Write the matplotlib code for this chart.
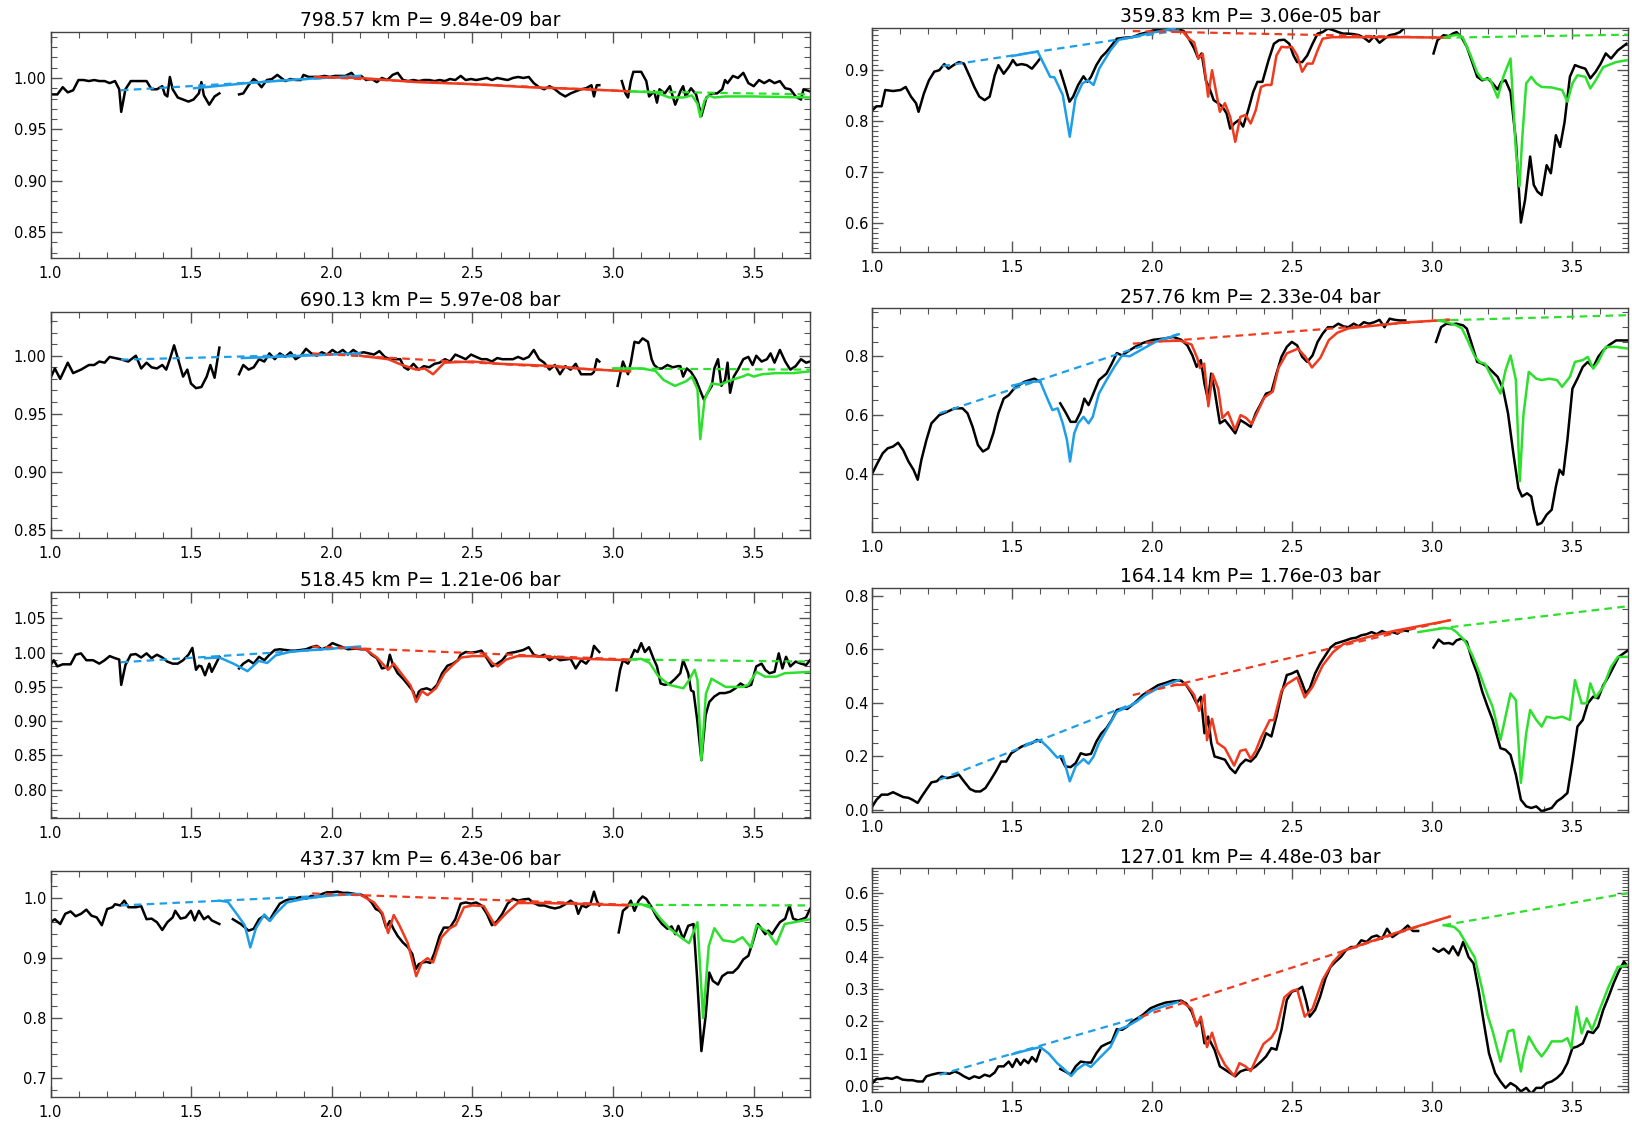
import numpy as np
import matplotlib
matplotlib.use("Agg")
import matplotlib.pyplot as plt
from matplotlib.ticker import MultipleLocator, FormatStrFormatter

# ── Colours ───────────────────────────────────────────────────────────────────
OBS_COLOR   = "black"
BLUE        = "#1E9EE8"
RED         = "#F03A1E"
GREEN       = "#2EE02E"

# ── 798.57 km ─────────────────────────────────────────────────────────────────
L1_obs_a = [(1.000,0.984),(1.024,0.984),(1.043,0.991),(1.061,0.986),(1.080,0.988),(1.099,0.998),(1.117,0.998),
            (1.136,0.997),(1.155,0.998),(1.173,0.997),(1.192,0.997),(1.210,0.995),(1.229,0.997),(1.244,0.989),
            (1.251,0.967),(1.266,0.989),(1.285,0.997),(1.303,0.997),(1.322,0.997),(1.341,0.997),(1.359,0.989),
            (1.378,0.989),(1.397,0.992),(1.406,0.984),(1.415,0.982),(1.424,1.001),(1.434,0.989),(1.452,0.981),
            (1.471,0.979),(1.490,0.977),(1.508,0.979),(1.527,0.985),(1.536,0.996),(1.545,0.983),(1.564,0.974),
            (1.583,0.982),(1.600,0.985)]
L1_obs_b = [(1.670,0.984),(1.685,0.985),(1.704,0.993),(1.722,0.999),(1.732,0.997),(1.750,0.991),(1.769,0.998),
            (1.787,0.999),(1.806,1.003),(1.825,0.999),(1.834,0.997),(1.853,0.999),(1.871,0.998),(1.890,0.998),
            (1.899,1.003),(1.918,1.001),(1.936,1.001),(1.955,1.001),(1.974,1.002),(1.992,1.001),(2.011,1.002),
            (2.029,1.002),(2.048,1.002),(2.070,1.005),(2.085,1.000),(2.104,1.002),(2.122,0.998),(2.141,0.999),
            (2.160,0.996),(2.178,1.000),(2.197,0.998),(2.216,1.003),(2.234,1.005),(2.253,0.998),(2.271,0.997),
            (2.290,0.998),(2.309,0.997),(2.327,0.998),(2.346,0.998),(2.365,0.997),(2.383,0.998),(2.402,0.997),
            (2.420,0.999),(2.439,0.998),(2.458,1.002),(2.476,0.998),(2.495,0.999),(2.513,0.998),(2.532,0.999),
            (2.551,1.000),(2.569,0.998),(2.588,1.000),(2.606,0.999),(2.625,0.998),(2.644,1.000),(2.662,1.001),
            (2.681,1.000),(2.700,1.001),(2.718,0.995),(2.737,0.991),(2.755,0.989),(2.774,0.992),(2.793,0.989),
            (2.811,0.985),(2.830,0.982),(2.849,0.985),(2.867,0.987),(2.886,0.989),(2.904,0.990),(2.923,0.993),
            (2.932,0.982),(2.942,0.993),(2.951,0.993)]
L1_obs_c = [(3.031,0.997),(3.044,0.985),(3.053,0.981),(3.063,0.997),(3.072,1.006),(3.100,1.006),(3.118,0.997),
            (3.128,0.982),(3.146,0.987),(3.156,0.976),(3.165,0.989),(3.184,0.985),(3.202,0.992),(3.212,0.982),
            (3.221,0.974),(3.239,0.987),(3.249,0.992),(3.258,0.982),(3.277,0.990),(3.295,0.984),(3.314,0.963),
            (3.332,0.981),(3.351,0.985),(3.370,0.985),(3.388,0.989),(3.398,0.998),(3.407,0.995),(3.426,1.002),
            (3.444,1.000),(3.463,1.005),(3.481,0.995),(3.500,0.992),(3.519,0.998),(3.537,0.995),(3.556,0.998),
            (3.574,0.995),(3.593,0.997),(3.612,0.990),(3.630,0.989),(3.649,0.982),(3.668,0.979),(3.677,0.989),
            (3.700,0.987)]
L1_blue  = [(1.51,0.990),(1.70,0.995),(1.90,0.999),(2.10,1.002)]
L1_red   = [(1.94,1.001),(2.10,1.000),(2.30,0.996),(2.50,0.994),(2.70,0.991),(2.90,0.989),(3.06,0.987)]
L1_green = [(3.06,0.987),(3.15,0.986),(3.20,0.981),(3.25,0.981),(3.28,0.983),(3.30,0.975),(3.31,0.962),
            (3.325,0.978),(3.34,0.983),(3.36,0.981),(3.40,0.982),(3.50,0.982),(3.70,0.981)]
L1_cont  = {"blue": [(1.25,0.988),(2.10,1.002)], "red": [(1.94,1.001),(3.06,0.987)],
            "green": [(3.06,0.987),(3.70,0.984)]}

# ── 690.13 km ─────────────────────────────────────────────────────────────────
L2_obs_a = [(1.000,0.981),(1.015,0.989),(1.034,0.980),(1.061,0.994),(1.080,0.985),(1.108,0.988),(1.136,0.992),
            (1.155,0.992),(1.173,0.995),(1.192,0.994),(1.210,0.999),(1.229,0.998),(1.248,0.997),(1.276,0.995),
            (1.303,1.000),(1.322,0.989),(1.341,0.994),(1.359,0.990),(1.378,0.989),(1.397,0.992),(1.411,0.988),
            (1.424,0.997),(1.439,1.009),(1.452,0.998),(1.471,0.982),(1.486,0.988),(1.499,0.976),(1.517,0.972),
            (1.536,0.973),(1.555,0.982),(1.568,0.992),(1.583,0.981),(1.600,1.007)]
L2_obs_b = [(1.670,0.984),(1.685,0.992),(1.704,0.988),(1.722,0.990),(1.741,0.997),(1.760,0.995),(1.778,1.002),
            (1.797,0.997),(1.815,1.002),(1.834,0.999),(1.853,1.003),(1.871,0.997),(1.890,1.000),(1.908,1.006),
            (1.927,1.002),(1.946,1.000),(1.964,1.003),(1.983,1.001),(2.002,1.005),(2.020,1.002),(2.039,1.005),
            (2.057,1.001),(2.076,1.005),(2.094,1.002),(2.113,1.003),(2.132,1.002),(2.150,1.001),(2.169,1.004),
            (2.188,0.999),(2.206,0.997),(2.225,0.997),(2.243,0.997),(2.257,0.990),(2.271,0.988),(2.290,0.993),
            (2.309,0.988),(2.327,0.991),(2.346,0.990),(2.365,0.993),(2.383,0.994),(2.402,0.997),(2.420,0.995),
            (2.439,1.001),(2.458,0.999),(2.476,0.997),(2.495,1.001),(2.513,0.999),(2.532,0.997),(2.551,0.997),
            (2.569,0.995),(2.588,0.998),(2.606,0.997),(2.625,0.997),(2.644,0.997),(2.662,0.999),(2.681,0.997),
            (2.700,0.999),(2.718,1.005),(2.737,0.997),(2.755,0.994),(2.774,0.988),(2.793,0.992),(2.811,0.984),
            (2.830,0.991),(2.849,0.988),(2.867,0.993),(2.886,0.984),(2.904,0.984),(2.923,0.984),(2.932,0.986),
            (2.942,0.997),(2.951,0.995)]
L2_obs_c = [(3.016,0.974),(3.035,0.995),(3.053,0.984),(3.063,0.994),(3.076,1.012),(3.091,1.011),(3.105,1.015),
            (3.124,1.012),(3.137,0.997),(3.146,0.992),(3.161,0.989),(3.174,0.989),(3.193,0.992),(3.212,0.990),
            (3.230,0.991),(3.239,0.991),(3.249,0.982),(3.262,0.989),(3.277,0.986),(3.295,0.979),(3.308,0.971),
            (3.323,0.962),(3.336,0.968),(3.351,0.974),(3.360,0.989),(3.373,0.997),(3.385,0.974),(3.398,0.979),
            (3.407,0.994),(3.416,0.968),(3.429,0.982),(3.444,0.988),(3.463,0.997),(3.481,0.999),(3.496,0.992),
            (3.509,1.000),(3.528,0.995),(3.547,0.997),(3.560,1.002),(3.574,0.994),(3.593,1.005),(3.612,0.995),
            (3.630,0.988),(3.649,0.991),(3.668,0.997),(3.686,0.994),(3.700,0.995)]
L2_blue  = [(1.68,0.998),(1.80,0.999),(2.00,1.001),(2.10,1.002)]
L2_red   = [(2.10,1.000),(2.20,0.997),(2.25,0.992),(2.30,0.988),(2.33,0.989),(2.36,0.984),(2.40,0.994),
            (2.50,0.995),(2.60,0.993),(2.70,0.992),(2.80,0.991),(2.90,0.9885),(3.06,0.9865)]
L2_green = [(3.00,0.989),(3.10,0.989),(3.15,0.987),(3.18,0.979),(3.22,0.974),(3.26,0.978),(3.28,0.982),
            (3.30,0.971),(3.31,0.928),(3.325,0.962),(3.35,0.976),(3.38,0.975),(3.42,0.979),(3.46,0.982),
            (3.48,0.984),(3.50,0.982),(3.53,0.984),(3.58,0.985),(3.64,0.985),(3.70,0.9865)]
L2_cont  = {"blue": [(1.25,0.9966),(2.10,1.002)], "red": [(1.93,1.002),(3.06,0.9865)],
            "green": [(3.00,0.989),(3.70,0.988)]}

# ── 518.45 km ─────────────────────────────────────────────────────────────────
L3_obs_a = [(1.000,0.982),(1.011,0.989),(1.024,0.980),(1.043,0.983),(1.071,0.983),(1.089,0.997),(1.108,0.999),
            (1.127,0.989),(1.151,0.989),(1.173,0.984),(1.192,0.989),(1.210,0.995),(1.229,0.992),(1.244,0.990),
            (1.251,0.953),(1.266,0.982),(1.285,0.997),(1.303,0.998),(1.322,0.993),(1.341,0.999),(1.359,0.992),
            (1.378,0.997),(1.397,0.993),(1.415,0.987),(1.434,0.984),(1.452,0.984),(1.471,0.989),(1.490,0.997),
            (1.504,1.007),(1.517,0.975),(1.527,0.981),(1.536,0.980),(1.549,0.967),(1.564,0.984),(1.573,0.972),
            (1.583,0.980),(1.600,0.994)]
L3_obs_b = [(1.670,0.977),(1.685,0.984),(1.704,0.989),(1.722,0.984),(1.741,0.994),(1.760,0.989),(1.778,0.997),
            (1.797,1.004),(1.815,1.005),(1.834,1.004),(1.853,1.003),(1.871,1.003),(1.890,1.004),(1.908,1.005),
            (1.927,1.008),(1.946,1.010),(1.964,1.005),(1.983,1.008),(2.002,1.014),(2.020,1.011),(2.039,1.008),
            (2.057,1.005),(2.085,1.006),(2.104,1.005),(2.122,1.005),(2.141,0.997),(2.160,0.992),(2.178,0.977),
            (2.197,0.979),(2.206,0.997),(2.216,0.984),(2.234,0.970),(2.253,0.962),(2.271,0.953),(2.290,0.943),
            (2.299,0.931),(2.309,0.943),(2.318,0.946),(2.337,0.948),(2.355,0.945),(2.374,0.953),(2.392,0.970),
            (2.411,0.981),(2.430,0.984),(2.448,0.989),(2.458,0.997),(2.476,1.001),(2.495,1.000),(2.513,1.001),
            (2.532,1.003),(2.551,0.992),(2.569,0.980),(2.588,0.984),(2.606,0.989),(2.625,0.999),(2.653,1.001),
            (2.681,1.004),(2.700,1.008),(2.718,0.997),(2.737,0.994),(2.755,0.997),(2.774,0.989),(2.793,0.994),
            (2.811,0.989),(2.830,0.990),(2.849,0.991),(2.867,0.977),(2.886,0.989),(2.904,0.984),(2.923,0.994),
            (2.932,1.010),(2.942,1.005),(2.951,1.001)]
L3_obs_c = [(3.012,0.945),(3.025,0.975),(3.035,0.989),(3.053,0.984),(3.063,0.992),(3.076,1.004),(3.087,1.001),
            (3.100,1.014),(3.113,1.001),(3.128,1.008),(3.143,0.992),(3.156,0.980),(3.169,0.955),(3.184,0.953),
            (3.202,0.955),(3.221,0.962),(3.239,0.970),(3.249,0.989),(3.267,0.970),(3.277,0.945),(3.286,0.943),
            (3.299,0.902),(3.314,0.843),(3.329,0.909),(3.342,0.928),(3.360,0.936),(3.379,0.941),(3.398,0.941),
            (3.416,0.943),(3.435,0.948),(3.453,0.955),(3.472,0.950),(3.491,0.953),(3.509,0.980),(3.528,0.984),
            (3.541,0.975),(3.556,0.970),(3.574,0.972),(3.589,0.999),(3.602,0.977),(3.615,0.994),(3.630,0.980),
            (3.649,0.987),(3.668,0.984),(3.686,0.982),(3.700,0.989)]
L3_blue  = [(1.55,0.992),(1.60,0.993),(1.65,0.984),(1.70,0.973),(1.74,0.988),(1.77,0.985),(1.80,0.996),
            (1.85,1.001),(1.90,1.003),(2.00,1.006),(2.10,1.009)]
L3_red   = [(2.08,1.007),(2.12,1.005),(2.16,0.993),(2.20,0.975),(2.22,0.984),(2.25,0.968),(2.28,0.952),
            (2.30,0.928),(2.32,0.944),(2.34,0.938),(2.37,0.948),(2.40,0.970),(2.43,0.982),(2.46,0.993),
            (2.50,0.995),(2.55,0.995),(2.57,0.985),(2.59,0.980),(2.62,0.990),(2.66,0.995),(2.70,0.995),
            (2.80,0.993),(2.90,0.991),(3.06,0.989)]
L3_green = [(3.06,0.990),(3.10,0.991),(3.13,0.985),(3.16,0.966),(3.20,0.953),(3.25,0.948),(3.27,0.960),
            (3.29,0.975),(3.30,0.960),(3.314,0.843),(3.33,0.940),(3.35,0.962),(3.40,0.950),(3.46,0.950),
            (3.48,0.953),(3.51,0.972),(3.54,0.965),(3.58,0.965),(3.61,0.970),(3.70,0.972)]
L3_cont  = {"blue": [(1.25,0.986),(2.10,1.008)], "red": [(1.93,1.009),(3.06,0.990)],
            "green": [(3.06,0.990),(3.70,0.987)]}

# ── 437.37 km ─────────────────────────────────────────────────────────────────
L4_obs_a = [(1.000,0.960),(1.015,0.965),(1.034,0.957),(1.052,0.974),(1.071,0.978),(1.089,0.970),(1.108,0.974),
            (1.127,0.981),(1.145,0.971),(1.164,0.968),(1.182,0.955),(1.201,0.982),(1.220,0.985),(1.229,0.990),
            (1.248,0.988),(1.262,0.996),(1.277,0.985),(1.303,0.985),(1.322,0.987),(1.341,0.965),(1.359,0.966),
            (1.378,0.960),(1.397,0.947),(1.415,0.960),(1.434,0.968),(1.443,0.979),(1.462,0.966),(1.480,0.968),
            (1.499,0.979),(1.512,0.963),(1.527,0.979),(1.545,0.965),(1.560,0.970),(1.573,0.963),(1.600,0.957)]
L4_obs_b = [(1.648,0.965),(1.676,0.957),(1.704,0.946),(1.722,0.949),(1.741,0.965),(1.760,0.971),(1.778,0.963),
            (1.797,0.978),(1.815,0.991),(1.834,0.996),(1.853,0.999),(1.871,1.000),(1.890,1.002),(1.908,0.999),
            (1.927,1.004),(1.946,1.002),(1.964,1.007),(1.983,1.010),(2.002,1.010),(2.020,1.011),(2.039,1.009),
            (2.057,1.009),(2.085,1.007),(2.104,1.006),(2.122,1.002),(2.141,0.993),(2.156,0.982),(2.169,0.979),
            (2.178,0.974),(2.193,0.951),(2.206,0.962),(2.219,0.949),(2.234,0.937),(2.253,0.926),(2.271,0.918),
            (2.286,0.907),(2.299,0.882),(2.309,0.890),(2.324,0.893),(2.337,0.894),(2.350,0.892),(2.365,0.909),
            (2.383,0.937),(2.398,0.951),(2.420,0.951),(2.439,0.965),(2.458,0.991),(2.476,0.993),(2.495,0.991),
            (2.513,0.993),(2.532,0.988),(2.551,0.974),(2.569,0.955),(2.588,0.962),(2.606,0.974),(2.625,0.991),
            (2.644,0.999),(2.662,0.996),(2.681,0.998),(2.700,0.999),(2.718,0.992),(2.737,0.988),(2.755,0.988),
            (2.774,0.985),(2.793,0.983),(2.811,0.985),(2.830,0.990),(2.849,0.996),(2.867,0.989),(2.876,0.974),
            (2.889,0.988),(2.904,0.985),(2.919,0.990),(2.932,1.011),(2.942,0.996),(2.951,0.988)]
L4_obs_c = [(3.020,0.943),(3.035,0.979),(3.050,0.985),(3.063,0.996),(3.076,0.979),(3.091,0.996),(3.105,1.003),
            (3.118,0.999),(3.137,0.985),(3.156,0.968),(3.174,0.957),(3.193,0.949),(3.208,0.953),(3.221,0.940),
            (3.232,0.954),(3.249,0.932),(3.267,0.954),(3.286,0.957),(3.299,0.865),(3.314,0.745),(3.329,0.803),
            (3.342,0.876),(3.355,0.862),(3.373,0.856),(3.388,0.870),(3.407,0.876),(3.426,0.876),(3.444,0.884),
            (3.463,0.898),(3.481,0.904),(3.500,0.932),(3.515,0.957),(3.528,0.949),(3.541,0.940),(3.552,0.946),
            (3.565,0.940),(3.580,0.951),(3.593,0.960),(3.612,0.966),(3.627,0.988),(3.640,0.966),(3.658,0.963),
            (3.677,0.966),(3.686,0.968),(3.700,0.982)]
L4_blue  = [(1.60,0.996),(1.63,0.994),(1.66,0.975),(1.69,0.955),(1.71,0.918),(1.73,0.950),(1.76,0.973),
            (1.78,0.962),(1.80,0.974),(1.84,0.993),(1.90,0.999),(2.00,1.005),(2.10,1.007)]
L4_red   = [(2.10,1.006),(2.15,0.993),(2.18,0.975),(2.20,0.942),(2.22,0.972),(2.24,0.955),(2.27,0.925),
            (2.30,0.870),(2.32,0.893),(2.34,0.900),(2.36,0.893),(2.39,0.935),(2.42,0.950),(2.44,0.955),
            (2.47,0.985),(2.50,0.988),(2.54,0.987),(2.58,0.955),(2.62,0.975),(2.66,0.992),(2.75,0.992),
            (2.85,0.991),(3.06,0.988)]
L4_green = [(3.06,0.989),(3.10,0.990),(3.14,0.983),(3.17,0.965),(3.20,0.950),(3.24,0.935),(3.27,0.925),
            (3.30,0.960),(3.32,0.800),(3.34,0.920),(3.36,0.950),(3.39,0.930),(3.43,0.927),(3.46,0.935),
            (3.49,0.918),(3.51,0.955),(3.55,0.943),(3.58,0.923),(3.61,0.957),(3.70,0.965)]
L4_cont  = {"blue": [(1.25,0.988),(2.10,1.007)], "red": [(1.93,1.008),(3.06,0.989)],
            "green": [(3.06,0.989),(3.70,0.988)]}

# ── 359.83 km ─────────────────────────────────────────────────────────────────
R1_obs_a = [(1.000,0.821),(1.015,0.829),(1.033,0.829),(1.046,0.861),(1.074,0.859),(1.101,0.861),(1.119,0.867),
            (1.138,0.848),(1.156,0.835),(1.165,0.818),(1.184,0.854),(1.202,0.880),(1.221,0.897),(1.239,0.900),
            (1.257,0.912),(1.272,0.903),(1.290,0.910),(1.309,0.916),(1.327,0.913),(1.346,0.890),(1.364,0.867),
            (1.382,0.848),(1.401,0.841),(1.419,0.848),(1.437,0.890),(1.450,0.910),(1.469,0.893),(1.487,0.906),
            (1.502,0.920),(1.515,0.910),(1.533,0.912),(1.551,0.910),(1.570,0.903),(1.585,0.913),(1.599,0.923)]
R1_obs_b = [(1.671,0.899),(1.689,0.867),(1.704,0.838),(1.717,0.848),(1.735,0.871),(1.754,0.888),(1.768,0.877),
            (1.781,0.887),(1.800,0.910),(1.818,0.926),(1.836,0.936),(1.855,0.949),(1.873,0.962),(1.901,0.964),
            (1.928,0.965),(1.956,0.971),(1.984,0.975),(2.011,0.979),(2.039,0.980),(2.066,0.979),(2.088,0.982),
            (2.112,0.977),(2.130,0.962),(2.149,0.943),(2.164,0.923),(2.176,0.933),(2.191,0.880),(2.204,0.864),
            (2.219,0.841),(2.235,0.835),(2.250,0.828),(2.265,0.815),(2.278,0.785),(2.292,0.795),(2.309,0.802),
            (2.324,0.789),(2.342,0.821),(2.360,0.857),(2.375,0.877),(2.393,0.877),(2.415,0.920),(2.434,0.952),
            (2.452,0.959),(2.471,0.960),(2.489,0.952),(2.504,0.929),(2.517,0.916),(2.535,0.916),(2.553,0.929),
            (2.572,0.952),(2.590,0.972),(2.608,0.975),(2.627,0.982),(2.645,0.979),(2.664,0.975),(2.682,0.972),
            (2.700,0.972),(2.719,0.971),(2.737,0.969),(2.755,0.964),(2.774,0.956),(2.792,0.967),(2.811,0.954),
            (2.829,0.962),(2.847,0.969),(2.866,0.971),(2.884,0.975),(2.903,0.985),(2.930,0.990)]
R1_obs_c = [(3.004,0.933),(3.018,0.959),(3.040,0.969),(3.059,0.967),(3.073,0.972),(3.086,0.975),(3.105,0.964),
            (3.123,0.946),(3.142,0.916),(3.160,0.887),(3.178,0.880),(3.197,0.884),(3.215,0.874),(3.233,0.862),
            (3.246,0.877),(3.261,0.880),(3.279,0.857),(3.298,0.762),(3.316,0.600),(3.331,0.645),(3.349,0.730),
            (3.362,0.674),(3.375,0.661),(3.390,0.654),(3.408,0.713),(3.423,0.697),(3.441,0.772),(3.456,0.749),
            (3.472,0.798),(3.491,0.887),(3.509,0.910),(3.528,0.906),(3.546,0.903),(3.564,0.884),(3.583,0.897),
            (3.601,0.913),(3.619,0.933),(3.638,0.923),(3.662,0.939),(3.693,0.952)]
R1_blue  = [(1.50,0.928),(1.59,0.937),(1.635,0.887),(1.65,0.886),(1.68,0.851),(1.705,0.769),(1.725,0.844),
            (1.75,0.874),(1.77,0.880),(1.79,0.871),(1.81,0.903),(1.85,0.939),(1.88,0.960),(1.92,0.964),
            (2.00,0.974),(2.08,0.982)]
R1_red   = [(2.07,0.977),(2.11,0.975),(2.13,0.962),(2.149,0.955),(2.164,0.923),(2.180,0.932),(2.199,0.848),
            (2.213,0.900),(2.241,0.818),(2.259,0.835),(2.278,0.808),(2.296,0.759),(2.314,0.808),(2.333,0.812),
            (2.351,0.795),(2.369,0.821),(2.388,0.867),(2.406,0.871),(2.425,0.871),(2.443,0.929),(2.461,0.946),
            (2.480,0.945),(2.498,0.946),(2.517,0.929),(2.535,0.897),(2.553,0.913),(2.572,0.913),(2.590,0.939),
            (2.608,0.962),(2.640,0.965),(2.750,0.965),(2.900,0.965),(3.060,0.964)]
R1_green = [(3.040,0.964),(3.059,0.967),(3.090,0.970),(3.108,0.965),(3.136,0.930),(3.160,0.895),(3.178,0.882),
            (3.206,0.882),(3.233,0.846),(3.255,0.890),(3.279,0.923),(3.298,0.743),(3.311,0.671),(3.320,0.760),
            (3.335,0.874),(3.353,0.887),(3.371,0.874),(3.390,0.867),(3.426,0.866),(3.463,0.861),(3.482,0.838),
            (3.500,0.874),(3.518,0.890),(3.546,0.887),(3.564,0.864),(3.583,0.880),(3.610,0.906),(3.656,0.916),
            (3.700,0.920)]
R1_cont  = {"blue": [(1.25,0.908),(2.10,0.979)], "red": [(1.93,0.977),(3.06,0.964)],
            "green": [(3.04,0.964),(3.70,0.970)]}

# ── 257.76 km ─────────────────────────────────────────────────────────────────
R2_obs_a = [(1.000,0.402),(1.018,0.436),(1.037,0.470),(1.055,0.487),(1.074,0.493),(1.092,0.506),(1.110,0.481),
            (1.129,0.442),(1.147,0.414),(1.162,0.380),(1.175,0.447),(1.193,0.515),(1.211,0.572),(1.239,0.600),
            (1.267,0.611),(1.294,0.623),(1.322,0.623),(1.340,0.606),(1.358,0.560),(1.377,0.498),(1.395,0.476),
            (1.414,0.487),(1.432,0.538),(1.450,0.606),(1.469,0.656),(1.487,0.668),(1.506,0.690),(1.524,0.702),
            (1.542,0.713),(1.561,0.719),(1.579,0.724),(1.599,0.713)]
R2_obs_b = [(1.671,0.640),(1.689,0.611),(1.708,0.577),(1.726,0.577),(1.744,0.611),(1.757,0.656),(1.772,0.634),
            (1.787,0.668),(1.809,0.719),(1.836,0.741),(1.855,0.775),(1.873,0.811),(1.892,0.803),(1.910,0.815),
            (1.938,0.832),(1.965,0.845),(2.002,0.856),(2.039,0.860),(2.075,0.866),(2.103,0.856),(2.125,0.837),
            (2.143,0.803),(2.158,0.764),(2.173,0.787),(2.186,0.707),(2.199,0.651),(2.210,0.741),(2.222,0.685),
            (2.241,0.572),(2.259,0.583),(2.278,0.560),(2.296,0.538),(2.314,0.583),(2.333,0.572),(2.351,0.560),
            (2.369,0.606),(2.388,0.640),(2.406,0.673),(2.425,0.679),(2.443,0.741),(2.461,0.798),(2.480,0.832),
            (2.498,0.849),(2.517,0.837),(2.535,0.798),(2.553,0.781),(2.572,0.803),(2.590,0.849),(2.608,0.877),
            (2.627,0.899),(2.645,0.899),(2.664,0.911),(2.682,0.902),(2.700,0.899),(2.719,0.911),(2.737,0.902),
            (2.755,0.916),(2.774,0.911),(2.792,0.916),(2.811,0.924),(2.829,0.899),(2.847,0.928),(2.866,0.924),
            (2.884,0.922),(2.903,0.922)]
R2_obs_c = [(3.013,0.849),(3.031,0.899),(3.050,0.911),(3.068,0.909),(3.086,0.911),(3.110,0.905),(3.123,0.894),
            (3.142,0.837),(3.160,0.781),(3.178,0.775),(3.197,0.764),(3.215,0.747),(3.233,0.730),(3.252,0.690),
            (3.270,0.606),(3.289,0.470),(3.307,0.351),(3.320,0.323),(3.338,0.334),(3.353,0.323),(3.362,0.278),
            (3.375,0.227),(3.390,0.233),(3.408,0.261),(3.426,0.278),(3.441,0.357),(3.454,0.414),(3.467,0.397),
            (3.482,0.515),(3.500,0.690),(3.518,0.724),(3.537,0.764),(3.555,0.781),(3.574,0.762),(3.592,0.798),
            (3.610,0.820),(3.629,0.837),(3.656,0.854),(3.700,0.854)]
R2_blue  = [(1.500,0.700),(1.551,0.712),(1.599,0.715),(1.625,0.656),(1.643,0.617),(1.662,0.623),(1.680,0.572),
            (1.695,0.515),(1.706,0.442),(1.721,0.538),(1.735,0.572),(1.754,0.594),(1.772,0.572),(1.787,0.594),
            (1.809,0.673),(1.836,0.719),(1.864,0.764),(1.892,0.803),(1.919,0.800),(1.956,0.820),(2.011,0.849),
            (2.066,0.866),(2.094,0.875)]
R2_red   = [(2.05,0.852),(2.10,0.853),(2.14,0.840),(2.16,0.795),(2.17,0.760),(2.185,0.775),(2.20,0.630),
            (2.215,0.740),(2.235,0.690),(2.25,0.590),(2.27,0.610),(2.295,0.550),(2.315,0.600),(2.335,0.590),
            (2.355,0.570),(2.375,0.610),(2.40,0.660),(2.43,0.680),(2.45,0.760),(2.48,0.810),(2.52,0.826),
            (2.545,0.800),(2.57,0.762),(2.60,0.795),(2.63,0.855),(2.66,0.880),(2.70,0.895),(2.80,0.905),
            (2.90,0.915),(3.06,0.924)]
R2_green = [(3.022,0.922),(3.055,0.915),(3.086,0.905),(3.105,0.895),(3.123,0.860),(3.151,0.800),(3.169,0.780),
            (3.188,0.775),(3.206,0.740),(3.243,0.673),(3.261,0.752),(3.279,0.803),(3.298,0.720),(3.312,0.375),
            (3.325,0.600),(3.344,0.747),(3.371,0.724),(3.390,0.719),(3.417,0.724),(3.445,0.719),(3.463,0.696),
            (3.491,0.730),(3.509,0.781),(3.537,0.787),(3.555,0.798),(3.574,0.758),(3.592,0.781),(3.619,0.832),
            (3.656,0.832),(3.700,0.826)]
R2_cont  = {"blue": [(1.24,0.606),(2.09,0.875)], "red": [(1.93,0.843),(3.06,0.925)],
            "green": [(3.02,0.922),(3.70,0.940)]}

# ── 164.14 km ─────────────────────────────────────────────────────────────────
R3_obs_a = [(1.000,0.012),(1.015,0.037),(1.033,0.056),(1.055,0.056),(1.074,0.065),(1.092,0.056),(1.110,0.047),
            (1.129,0.044),(1.143,0.037),(1.162,0.025),(1.175,0.047),(1.193,0.075),(1.211,0.102),(1.230,0.106),
            (1.248,0.124),(1.267,0.118),(1.290,0.124),(1.309,0.131),(1.327,0.106),(1.349,0.077),(1.368,0.068),
            (1.386,0.068),(1.404,0.081),(1.423,0.112),(1.441,0.143),(1.460,0.180),(1.478,0.180),(1.496,0.211),
            (1.515,0.224),(1.533,0.236),(1.551,0.243),(1.570,0.249),(1.588,0.261),(1.599,0.255)]
R3_obs_b = [(1.671,0.199),(1.689,0.162),(1.708,0.159),(1.726,0.174),(1.744,0.211),(1.763,0.205),(1.781,0.209),
            (1.800,0.255),(1.818,0.286),(1.836,0.305),(1.855,0.336),(1.873,0.373),(1.892,0.379),(1.910,0.377),
            (1.928,0.392),(1.947,0.410),(1.965,0.429),(1.993,0.448),(2.020,0.466),(2.048,0.475),(2.075,0.485),
            (2.103,0.483),(2.121,0.466),(2.140,0.435),(2.158,0.398),(2.173,0.423),(2.186,0.286),(2.199,0.348),
            (2.210,0.249),(2.222,0.199),(2.241,0.193),(2.259,0.187),(2.278,0.155),(2.296,0.137),(2.314,0.168),
            (2.333,0.187),(2.351,0.180),(2.369,0.199),(2.388,0.236),(2.406,0.286),(2.425,0.274),(2.443,0.348),
            (2.461,0.435),(2.480,0.504),(2.498,0.510),(2.517,0.520),(2.535,0.473),(2.548,0.435),(2.562,0.454),
            (2.581,0.510),(2.599,0.547),(2.618,0.578),(2.636,0.607),(2.654,0.622),(2.673,0.628),(2.691,0.634),
            (2.710,0.641),(2.728,0.644),(2.746,0.653),(2.765,0.657),(2.783,0.665),(2.801,0.657),(2.820,0.669),
            (2.838,0.661),(2.857,0.665),(2.875,0.659),(2.893,0.672),(2.912,0.669)]
R3_obs_c = [(3.004,0.607),(3.022,0.637),(3.040,0.622),(3.059,0.624),(3.073,0.619),(3.086,0.634),(3.105,0.641),
            (3.123,0.628),(3.142,0.560),(3.160,0.510),(3.178,0.442),(3.197,0.386),(3.215,0.336),(3.228,0.286),
            (3.243,0.230),(3.261,0.224),(3.279,0.205),(3.298,0.131),(3.316,0.037),(3.335,0.012),(3.353,0.006),
            (3.371,0.012),(3.390,-0.006),(3.408,0.000),(3.426,0.006),(3.445,0.031),(3.463,0.044),(3.482,0.062),
            (3.500,0.180),(3.518,0.311),(3.537,0.336),(3.555,0.398),(3.574,0.423),(3.592,0.417),(3.610,0.466),
            (3.629,0.498),(3.647,0.535),(3.665,0.572),(3.699,0.597)]
R3_blue  = [(1.55,0.245),(1.58,0.255),(1.60,0.260),(1.63,0.230),(1.66,0.195),(1.68,0.200),(1.705,0.106),
            (1.726,0.162),(1.754,0.189),(1.772,0.172),(1.79,0.199),(1.809,0.249),(1.836,0.299),(1.873,0.367),
            (1.901,0.379),(1.938,0.398),(1.975,0.429),(2.030,0.460),(2.094,0.485)]
R3_red   = [(2.075,0.467),(2.121,0.468),(2.149,0.430),(2.167,0.370),(2.186,0.430),(2.195,0.260),(2.213,0.340),
            (2.232,0.250),(2.259,0.230),(2.292,0.165),(2.314,0.220),(2.333,0.225),(2.351,0.190),(2.369,0.220),
            (2.388,0.270),(2.419,0.335),(2.434,0.335),(2.461,0.445),(2.480,0.470),(2.517,0.495),(2.544,0.420),
            (2.572,0.460),(2.608,0.540),(2.645,0.590),(2.682,0.620),(2.765,0.645),(2.866,0.670),(2.967,0.690),
            (3.062,0.709)]
R3_green = [(2.950,0.665),(3.040,0.680),(3.068,0.678),(3.086,0.665),(3.114,0.635),(3.142,0.580),(3.169,0.510),
            (3.197,0.430),(3.215,0.385),(3.243,0.261),(3.261,0.348),(3.279,0.435),(3.298,0.410),(3.316,0.100),
            (3.335,0.286),(3.349,0.373),(3.371,0.336),(3.390,0.311),(3.408,0.348),(3.436,0.342),(3.463,0.348),
            (3.491,0.336),(3.509,0.485),(3.533,0.398),(3.551,0.398),(3.564,0.473),(3.583,0.420),(3.610,0.460),
            (3.638,0.535),(3.662,0.572),(3.700,0.572)]
R3_cont  = {"blue": [(1.24,0.112),(1.95,0.405)], "red": [(1.93,0.429),(3.06,0.709)],
            "green": [(3.02,0.678),(3.70,0.762)]}

# ── 127.01 km ─────────────────────────────────────────────────────────────────
R4_obs_a = [(1.000,0.008),(1.015,0.021),(1.033,0.021),(1.051,0.024),(1.070,0.021),(1.088,0.027),(1.107,0.019),
            (1.125,0.017),(1.143,0.017),(1.162,0.013),(1.180,0.013),(1.193,0.029),(1.211,0.034),(1.235,0.039),
            (1.257,0.039),(1.276,0.037),(1.294,0.044),(1.309,0.039),(1.327,0.029),(1.346,0.021),(1.364,0.029),
            (1.382,0.024),(1.401,0.034),(1.419,0.029),(1.437,0.041),(1.450,0.060),(1.469,0.060),(1.487,0.075),
            (1.500,0.058),(1.515,0.083),(1.529,0.065),(1.542,0.081),(1.557,0.070),(1.570,0.089),(1.585,0.075),
            (1.599,0.110)]
R4_obs_b = [(1.671,0.052),(1.689,0.044),(1.708,0.034),(1.726,0.060),(1.744,0.075),(1.763,0.072),(1.781,0.072),
            (1.800,0.101),(1.818,0.122),(1.836,0.130),(1.855,0.137),(1.873,0.176),(1.892,0.174),(1.910,0.184),
            (1.928,0.200),(1.947,0.210),(1.965,0.220),(1.993,0.241),(2.020,0.251),(2.048,0.259),(2.075,0.262),
            (2.103,0.265),(2.121,0.256),(2.140,0.231),(2.158,0.189),(2.173,0.205),(2.186,0.132),(2.199,0.153),
            (2.210,0.132),(2.222,0.112),(2.241,0.060),(2.259,0.050),(2.278,0.039),(2.296,0.029),(2.314,0.044),
            (2.333,0.050),(2.351,0.050),(2.369,0.060),(2.388,0.075),(2.406,0.091),(2.425,0.117),(2.443,0.112),
            (2.461,0.174),(2.480,0.267),(2.498,0.293),(2.517,0.298),(2.535,0.308),(2.548,0.267),(2.562,0.215),
            (2.581,0.236),(2.599,0.277),(2.618,0.334),(2.636,0.370),(2.654,0.386),(2.673,0.401),(2.691,0.422),
            (2.710,0.432),(2.728,0.432),(2.746,0.453),(2.765,0.448),(2.783,0.463),(2.801,0.468),(2.820,0.458),
            (2.838,0.489),(2.857,0.463),(2.875,0.474),(2.893,0.484),(2.912,0.499),(2.930,0.482),(2.949,0.482)]
R4_obs_c = [(3.004,0.427),(3.022,0.417),(3.040,0.427),(3.059,0.412),(3.073,0.434),(3.092,0.406),(3.110,0.448),
            (3.129,0.401),(3.147,0.381),(3.165,0.298),(3.184,0.194),(3.202,0.101),(3.224,0.039),(3.243,0.013),
            (3.261,-0.007),(3.279,0.008),(3.298,-0.002),(3.316,-0.018),(3.335,-0.007),(3.353,-0.025),
            (3.371,-0.007),(3.390,-0.007),(3.408,0.008),(3.426,0.013),(3.445,0.024),(3.463,0.039),(3.482,0.070),
            (3.500,0.117),(3.518,0.122),(3.537,0.132),(3.555,0.169),(3.574,0.164),(3.592,0.184),(3.610,0.236),
            (3.629,0.277),(3.647,0.319),(3.665,0.355),(3.684,0.386),(3.699,0.370)]
R4_blue  = [(1.50,0.098),(1.55,0.110),(1.60,0.120),(1.63,0.100),(1.66,0.070),(1.68,0.055),(1.71,0.030),
            (1.73,0.050),(1.76,0.068),(1.78,0.058),(1.81,0.085),(1.85,0.120),(1.88,0.175),(1.91,0.185),
            (1.95,0.205),(2.00,0.235),(2.05,0.250),(2.09,0.260)]
R4_red   = [(2.103,0.262),(2.140,0.240),(2.158,0.185),(2.173,0.215),(2.195,0.120),(2.213,0.165),(2.232,0.110),
            (2.259,0.065),(2.292,0.030),(2.311,0.070),(2.333,0.060),(2.351,0.045),(2.369,0.080),(2.397,0.130),
            (2.425,0.150),(2.443,0.175),(2.471,0.275),(2.498,0.295),(2.517,0.300),(2.544,0.215),(2.572,0.240),
            (2.608,0.330),(2.645,0.385),(2.682,0.420),(2.765,0.445),(2.866,0.475),(3.062,0.527)]
R4_green = [(3.040,0.500),(3.077,0.495),(3.096,0.480),(3.123,0.440),(3.151,0.400),(3.178,0.300),(3.197,0.220),
            (3.215,0.170),(3.243,0.075),(3.270,0.169),(3.289,0.174),(3.316,0.044),(3.325,0.090),(3.344,0.153),
            (3.371,0.112),(3.390,0.091),(3.408,0.112),(3.426,0.138),(3.463,0.138),(3.482,0.148),(3.496,0.117),
            (3.515,0.246),(3.533,0.163),(3.551,0.210),(3.570,0.174),(3.592,0.225),(3.629,0.308),(3.662,0.370),
            (3.700,0.375)]
R4_cont  = {"blue": [(1.24,0.034),(1.96,0.215)], "red": [(1.96,0.215),(3.06,0.527)],
            "green": [(3.04,0.500),(3.70,0.600)]}

# ── Panel settings: title, y-range, y tick steps, label format ────────────────
TITLES = ["798.57 km P= 9.84e-09 bar", "690.13 km P= 5.97e-08 bar",
          "518.45 km P= 1.21e-06 bar", "437.37 km P= 6.43e-06 bar",
          "359.83 km P= 3.06e-05 bar", "257.76 km P= 2.33e-04 bar",
          "164.14 km P= 1.76e-03 bar", "127.01 km P= 4.48e-03 bar"]
YLIMS   = [(0.825, 1.045), (0.843, 1.038), (0.759, 1.089), (0.669, 1.046),
           (0.542, 0.983), (0.202, 0.964), (-0.009, 0.830), (-0.020, 0.678)]
YMAJOR  = [0.05, 0.05, 0.05, 0.1, 0.1, 0.2, 0.2, 0.1]
YMINOR  = [0.01, 0.01, 0.01, 0.02, 0.01, 0.05, 0.05, 0.01]
YFMT    = ["%.2f", "%.2f", "%.2f", "%.1f", "%.1f", "%.1f", "%.1f", "%.1f"]

OBS    = [(L1_obs_a, L1_obs_b, L1_obs_c), (L2_obs_a, L2_obs_b, L2_obs_c),
          (L3_obs_a, L3_obs_b, L3_obs_c), (L4_obs_a, L4_obs_b, L4_obs_c),
          (R1_obs_a, R1_obs_b, R1_obs_c), (R2_obs_a, R2_obs_b, R2_obs_c),
          (R3_obs_a, R3_obs_b, R3_obs_c), (R4_obs_a, R4_obs_b, R4_obs_c)]
MODELS = [(L1_blue, L1_red, L1_green), (L2_blue, L2_red, L2_green),
          (L3_blue, L3_red, L3_green), (L4_blue, L4_red, L4_green),
          (R1_blue, R1_red, R1_green), (R2_blue, R2_red, R2_green),
          (R3_blue, R3_red, R3_green), (R4_blue, R4_red, R4_green)]
CONTS  = [L1_cont, L2_cont, L3_cont, L4_cont, R1_cont, R2_cont, R3_cont, R4_cont]

# axes rectangles in figure fractions (left column top→bottom, then right)
LEFT_X, LEFT_W   = 0.0310, 0.4650
RIGHT_X, RIGHT_W = 0.5342, 0.4630
LEFT_Y  = [0.7703, 0.5208, 0.2712, 0.0226]
RIGHT_Y = [0.7754, 0.5258, 0.2763, 0.0267]
AX_H_L, AX_H_R = 0.2014, 0.1996


def xy(pairs):
    arr = np.array(pairs, dtype=float)
    return arr[:, 0], arr[:, 1]


def draw_panel(ax, i):
    for seg in OBS[i]:
        x, y = xy(seg)
        ax.plot(x, y, color=OBS_COLOR, lw=1.8, solid_joinstyle="round", zorder=2)

    for seg, col in zip(MODELS[i], (BLUE, RED, GREEN)):
        x, y = xy(seg)
        ax.plot(x, y, color=col, lw=1.8, solid_joinstyle="round", zorder=3)

    for key, col in (("blue", BLUE), ("red", RED), ("green", GREEN)):
        x, y = xy(CONTS[i][key])
        ax.plot(x, y, color=col, lw=1.6, ls=(0, (3.4, 2.4)), zorder=4)

    ax.set_xlim(1.0, 3.7)
    ax.set_ylim(*YLIMS[i])
    ax.xaxis.set_major_locator(MultipleLocator(0.5))
    ax.xaxis.set_minor_locator(MultipleLocator(0.1))
    ax.yaxis.set_major_locator(MultipleLocator(YMAJOR[i]))
    ax.yaxis.set_minor_locator(MultipleLocator(YMINOR[i]))
    ax.xaxis.set_major_formatter(FormatStrFormatter("%.1f"))
    ax.yaxis.set_major_formatter(FormatStrFormatter(YFMT[i]))

    ax.tick_params(which="both", direction="in", top=True, right=True,
                   color="#555555", labelcolor="black")
    ax.tick_params(which="major", length=8, width=1.0, labelsize=10.5, pad=6)
    ax.tick_params(axis="y", which="major", pad=3)
    ax.tick_params(which="minor", length=4, width=0.8)
    for sp in ax.spines.values():
        sp.set_color("#444444")
        sp.set_linewidth(1.0)

    ax.set_title(TITLES[i], fontsize=13.5, pad=4)


fig = plt.figure(figsize=(16.33, 11.22), dpi=100)
for row in range(4):
    ax = fig.add_axes([LEFT_X, LEFT_Y[row], LEFT_W, AX_H_L])
    draw_panel(ax, row)
    ax = fig.add_axes([RIGHT_X, RIGHT_Y[row], RIGHT_W, AX_H_R])
    draw_panel(ax, row + 4)

fig.savefig("out.png", dpi=100)
